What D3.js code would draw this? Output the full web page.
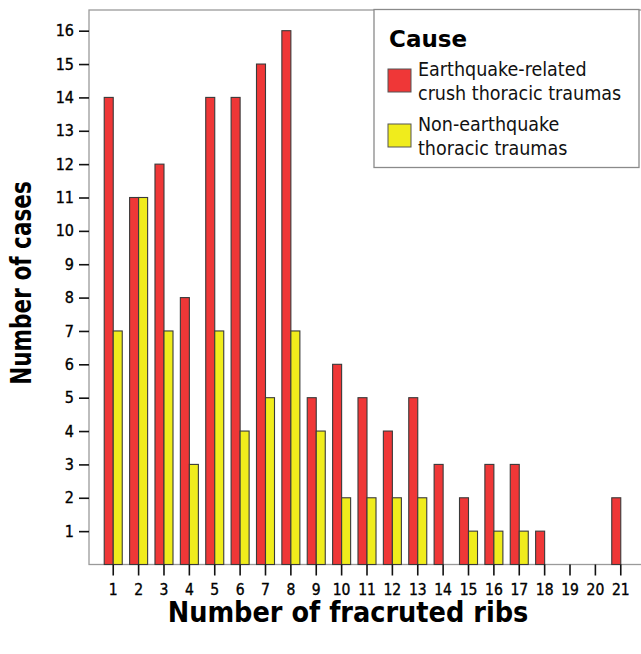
<!DOCTYPE html>
<html>
<head>
<meta charset="utf-8">
<script src="https://cdn.jsdelivr.net/npm/d3@7"></script>
<style>
  body { margin: 0; background: #fff; }
  svg { display: block; }
</style>
</head>
<body>
<script>
// number of fractured ribs (categories)
const ribs = ['1','2','3','4','5','6','7','8','9','10','11','12','13','14','15','16','17','18','19','20','21'];
// earthquake-related crush thoracic traumas
const earthquake = [14, 11, 12, 8, 14, 14, 15, 16, 5, 6, 5, 4, 5, 3, 2, 3, 3, 1, 0, 0, 2];
// non-earthquake thoracic traumas
const nonEarthquake = [7, 11, 7, 3, 7, 4, 5, 7, 4, 2, 2, 2, 2, 0, 1, 1, 1, 0, 0, 0, 0];
const yTicks = d3.range(1, 17);
const seriesNames = ['Earthquake-related crush thoracic traumas', 'Non-earthquake thoracic traumas'];
const seriesLabels = [['Earthquake-related', 'crush thoracic traumas'], ['Non-earthquake', 'thoracic traumas']];
const colors = ['#ef3737', '#f0ec1c'];

const width = 641, height = 654;
const margin = {left: 89, right: -4, top: 10, bottom: 89.5};
const tickFont = '"DejaVu Sans Condensed", "DejaVu Sans", sans-serif';

const svg = d3.select('body').append('svg')
    .attr('width', width)
    .attr('height', height);

const x = d3.scaleBand()
    .domain(ribs)
    .range([margin.left, width - margin.right])
    .paddingInner(0.29)
    .paddingOuter(0.6);

const xs = d3.scaleBand()
    .domain([0, 1])
    .range([0, x.bandwidth()]);

const y = d3.scaleLinear()
    .domain([0, 16.62])
    .range([height - margin.bottom, margin.top]);

// plot frame
svg.append('rect')
    .attr('x', margin.left)
    .attr('y', margin.top)
    .attr('width', width - margin.right - margin.left)
    .attr('height', y(0) - margin.top)
    .attr('fill', 'none')
    .attr('stroke', '#9a9a9a')
    .attr('stroke-width', 1.3);

const rows = ribs.map((r, i) => ({rib: r, values: [earthquake[i], nonEarthquake[i]]}));

const groups = svg.selectAll('.group')
    .data(rows)
    .join('g')
    .attr('class', 'group')
    .attr('transform', d => `translate(${x(d.rib)},0)`);

groups.selectAll('rect')
    .data(d => d.values.map((v, k) => ({k, v})).filter(e => e.v > 0))
    .join('rect')
    .attr('x', d => xs(d.k))
    .attr('y', d => y(d.v))
    .attr('width', xs.bandwidth())
    .attr('height', d => y(0) - y(d.v))
    .attr('fill', d => colors[d.k])
    .attr('stroke', '#3a3a3a')
    .attr('stroke-width', 1.1);

// axes
const yAxis = svg.append('g')
    .attr('transform', `translate(${margin.left},0)`)
    .call(d3.axisLeft(y).tickValues(yTicks).tickSize(10).tickPadding(5).tickFormat(d3.format('d')));
yAxis.select('.domain').remove();
yAxis.selectAll('line').attr('stroke', '#111').attr('stroke-width', 1.6);
yAxis.selectAll('text')
    .attr('font-family', tickFont)
    .attr('font-size', 16)
    .attr('fill', '#000')
    .attr('stroke', '#000')
    .attr('stroke-width', 0.35);

const xAxis = svg.append('g')
    .attr('transform', `translate(0,${y(0)})`)
    .call(d3.axisBottom(x).tickSize(11).tickPadding(8));
xAxis.select('.domain').remove();
xAxis.selectAll('line').attr('stroke', '#111').attr('stroke-width', 1.6);
xAxis.selectAll('text')
    .attr('font-family', tickFont)
    .attr('font-size', 15.5)
    .attr('fill', '#000')
    .attr('stroke', '#000')
    .attr('stroke-width', 0.35);

// axis titles
svg.append('text')
    .attr('transform', `translate(31,283) rotate(-90) scale(1,1.15)`)
    .attr('text-anchor', 'middle')
    .attr('font-family', '"DejaVu Sans Condensed", "DejaVu Sans", sans-serif')
    .attr('font-weight', 'bold')
    .attr('font-size', 24)
    .text('Number of cases');

svg.append('text')
    .attr('x', 348)
    .attr('y', 622)
    .attr('text-anchor', 'middle')
    .attr('font-family', '"DejaVu Sans Condensed", "DejaVu Sans", sans-serif')
    .attr('font-weight', 'bold')
    .attr('font-size', 28.5)
    .text('Number of fracruted ribs');

// legend
const legend = svg.append('g').attr('transform', 'translate(374,9.5)');
legend.append('rect')
    .attr('width', 265)
    .attr('height', 158)
    .attr('fill', '#fff')
    .attr('stroke', '#8a8a8a')
    .attr('stroke-width', 1.3);

legend.append('text')
    .attr('x', 15)
    .attr('y', 37.5)
    .attr('font-family', '"DejaVu Sans", sans-serif')
    .attr('font-weight', 'bold')
    .attr('font-size', 23)
    .text('Cause');

const items = legend.selectAll('.item')
    .data(seriesNames)
    .join('g')
    .attr('class', 'item')
    .attr('transform', (d, i) => `translate(14,${59.5 + i * 55})`);

items.append('rect')
    .attr('width', 23)
    .attr('height', 23)
    .attr('fill', (d, i) => colors[i])
    .attr('stroke', '#555')
    .attr('stroke-width', 1);

items.append('text')
    .attr('font-family', '"DejaVu Sans Condensed", "DejaVu Sans", sans-serif')
    .attr('font-size', 19.5)
    .attr('fill', '#111')
    .selectAll('tspan')
    .data((d, i) => seriesLabels[i])
    .join('tspan')
    .attr('x', 30)
    .attr('y', (d, j) => 7 + j * 24)
    .text(d => d);
</script>
</body>
</html>
